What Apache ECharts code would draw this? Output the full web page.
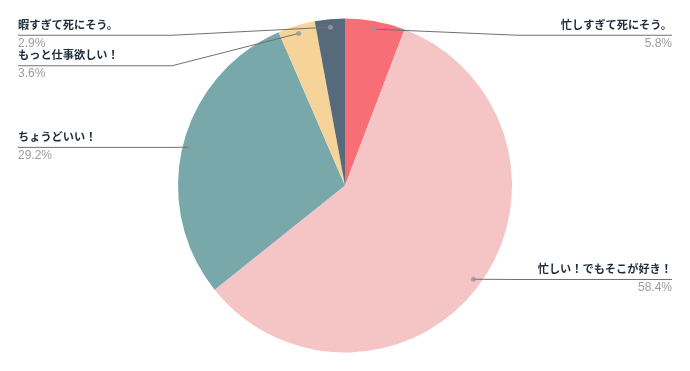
<!DOCTYPE html>
<html><head><meta charset="utf-8">
<script src="https://cdn.jsdelivr.net/npm/echarts@6/dist/echarts.min.js"></script>
<style>html,body{margin:0;padding:0;background:#fff}#c{width:690px;height:371px}</style>
</head><body><div id="c"></div>
<script>
var categories = ['忙しすぎて死にそう。','忙しい！でもそこが好き！','ちょうどいい！','もっと仕事欲しい！','暇すぎて死にそう。'];
var values = [5.8, 58.4, 29.2, 3.6, 2.9];
var colors = ['#F76E76','#F5C4C5','#78A8A9','#F6D398','#566A7B'];

var chart = echarts.init(document.getElementById('c'));
var R = 167, RL = 159, GAP = 6, TOP = 19, CY = 185.5, NAME_LH = 17, PCT_LH = 15;
var total = values.reduce(function(a,b){return a+b;},0);
var cum = 0, dots = [];
values.forEach(function(v){ dots.push([1, cum + v/2]); cum += v; });

var pieData = categories.map(function(n,i){ return {name:n, value:values[i], itemStyle:{color:colors[i]}}; });
var labelData = categories.map(function(n,i){ return {name:n, value:values[i]}; });

var jp = '"Noto Sans CJK JP", sans-serif';
var lat = '"Liberation Sans", Arial, sans-serif';
var common = {top:TOP, bottom:0, left:18, right:18, center:['50%', CY - TOP], startAngle:90, clockwise:true, silent:true};
chart.setOption({
  animation:false,
  polar:{center:['50%', CY], radius:RL},
  angleAxis:{type:'value', min:0, max:total, startAngle:90, clockwise:true, show:false},
  radiusAxis:{type:'value', min:0, max:1, show:false},
  series:[
    Object.assign({type:'pie', radius:R, label:{show:false}, labelLine:{show:false}, data:pieData, z:1}, common),
    Object.assign({type:'pie', radius:RL, z:2,
     itemStyle:{color:'rgba(0,0,0,0)'},
     label:{show:true, position:'outside', alignTo:'edge', edgeDistance:0, minMargin:0,
       formatter:function(p){ return '{n|'+p.name+'}\n{p|'+p.value.toFixed(1)+'%}'; },
       rich:{
         n:{fontFamily:jp, fontWeight:'bold', fontSize:11.2, color:'#1d2b3a', lineHeight:NAME_LH, verticalAlign:'top'},
         p:{fontFamily:lat, fontSize:12, color:'#9c9c9c', lineHeight:PCT_LH}
       }},
     labelLine:{show:true, length:0, length2:0, lineStyle:{color:'#707070', width:1}},
     labelLayout:function(params){
       var cx = chart.getWidth()/2;
       var isLeft = params.labelRect.x < cx;
       var pts = params.labelLinePoints;
       var ly = params.labelRect.y + params.labelRect.height/2 + (NAME_LH - PCT_LH)/2;
       pts[1] = [isLeft ? cx - R - GAP : cx + R + GAP, ly];
       pts[2] = [isLeft ? params.labelRect.x : params.labelRect.x + params.labelRect.width, ly];
       return {labelLinePoints: pts};
     },
     data:labelData}, common),
    {type:'scatter', coordinateSystem:'polar', symbolSize:5, silent:true, z:5,
     itemStyle:{color:'#999999'}, data:dots}
  ]
});
</script></body></html>
